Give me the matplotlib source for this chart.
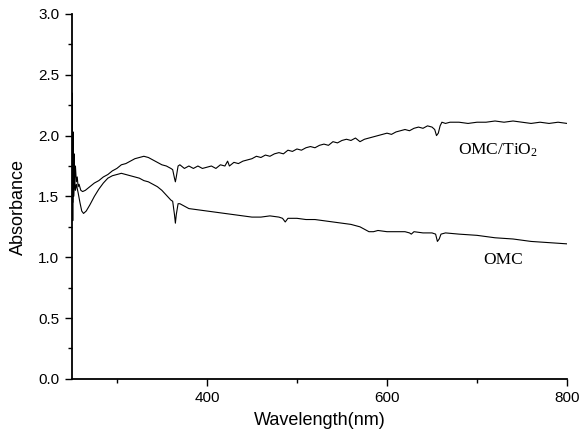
import matplotlib
matplotlib.use("Agg")
import matplotlib.pyplot as plt
from matplotlib.ticker import MultipleLocator, FixedLocator, FormatStrFormatter

plt.rcParams["mathtext.fontset"] = "custom"
plt.rcParams["mathtext.rm"] = "Liberation Serif"
plt.rcParams["mathtext.it"] = "Liberation Serif:italic"
plt.rcParams["mathtext.bf"] = "Liberation Serif:bold"

# OMC/TiO2 spectrum (wavelength nm, absorbance)
wl_tio2 = [250, 250.5, 251, 251.5, 252, 252.5, 253, 254, 255, 256, 257, 258, 260, 262, 265,
           270, 275, 280, 285, 290, 295, 300, 305, 310, 315, 320, 325, 330, 335, 340, 345,
           350, 355, 360, 362, 364, 365, 366, 368, 370, 375, 380, 385, 390, 395, 400, 405,
           410, 415, 420, 423, 425, 430, 435, 440, 445, 450, 455, 460, 465, 470, 475, 480,
           485, 490, 495, 500, 505, 510, 515, 520, 525, 530, 535, 540, 545, 550, 555, 560,
           565, 570, 575, 580, 585, 590, 595, 600, 605, 610, 615, 620, 625, 630, 635, 640,
           645, 650, 653, 655, 657, 659, 661, 665, 670, 680, 690, 700, 710, 720, 730, 740,
           750, 760, 770, 780, 790, 800]
abs_tio2 = [1.75, 2.35, 1.45, 2.03, 1.55, 1.85, 1.60, 1.75, 1.62, 1.66, 1.58, 1.60, 1.55, 1.54, 1.55,
            1.58, 1.61, 1.63, 1.66, 1.68, 1.71, 1.73, 1.76, 1.77, 1.79, 1.81, 1.82, 1.83, 1.82, 1.80, 1.78,
            1.76, 1.75, 1.73, 1.72, 1.65, 1.62, 1.66, 1.75, 1.76, 1.73, 1.75, 1.73, 1.75, 1.73, 1.74, 1.75,
            1.73, 1.76, 1.75, 1.79, 1.75, 1.78, 1.77, 1.79, 1.80, 1.81, 1.83, 1.82, 1.84, 1.83, 1.85, 1.86,
            1.85, 1.88, 1.87, 1.89, 1.88, 1.90, 1.91, 1.90, 1.92, 1.93, 1.92, 1.95, 1.94, 1.96, 1.97, 1.96,
            1.98, 1.95, 1.97, 1.98, 1.99, 2.00, 2.01, 2.02, 2.01, 2.03, 2.04, 2.05, 2.04, 2.06, 2.07, 2.06,
            2.08, 2.07, 2.05, 2.00, 2.02, 2.08, 2.11, 2.10, 2.11, 2.11, 2.10, 2.11, 2.11, 2.12, 2.11, 2.12,
            2.11, 2.10, 2.11, 2.10, 2.11, 2.10]

# OMC spectrum
wl_omc = [250, 250.5, 251, 251.5, 252, 253, 254, 255, 257, 259, 261, 263, 266, 270, 275, 280,
          285, 290, 295, 300, 305, 310, 315, 320, 325, 330, 335, 340, 345, 350, 355, 360, 362,
          364, 365, 366, 368, 370, 375, 380, 390, 400, 410, 420, 430, 440, 450, 460, 470, 480,
          484, 487, 490, 500, 510, 520, 530, 540, 550, 560, 570, 575, 580, 585, 590, 600, 610,
          620, 625, 627, 630, 640, 650, 654, 656, 658, 660, 665, 680, 700, 720, 740, 760, 780, 800]
abs_omc = [1.70, 2.00, 1.30, 1.90, 1.50, 1.65, 1.55, 1.60, 1.53, 1.45, 1.38, 1.36, 1.38, 1.43, 1.50, 1.56,
           1.61, 1.65, 1.67, 1.68, 1.69, 1.68, 1.67, 1.66, 1.65, 1.63, 1.62, 1.60, 1.58, 1.55, 1.51, 1.47, 1.46,
           1.35, 1.28, 1.35, 1.44, 1.44, 1.42, 1.40, 1.39, 1.38, 1.37, 1.36, 1.35, 1.34, 1.33, 1.33, 1.34, 1.33,
           1.32, 1.29, 1.32, 1.32, 1.31, 1.31, 1.30, 1.29, 1.28, 1.27, 1.25, 1.23, 1.21, 1.21, 1.22, 1.21, 1.21,
           1.21, 1.20, 1.19, 1.21, 1.20, 1.20, 1.19, 1.13, 1.15, 1.19, 1.20, 1.19, 1.18, 1.16, 1.15, 1.13, 1.12, 1.11]

x_major = [400, 600, 800]
x_minor = [300, 500, 700]

fig = plt.figure(figsize=(5.84, 4.36), dpi=100)
ax = fig.add_axes([0.123, 0.131, 0.848, 0.837])

ax.plot(wl_tio2, abs_tio2, color="black", lw=0.8)
ax.plot(wl_omc, abs_omc, color="black", lw=0.8)

ax.set_xlim(250, 800)
ax.set_ylim(0, 3.0)
ax.xaxis.set_major_locator(FixedLocator(x_major))
ax.xaxis.set_minor_locator(FixedLocator(x_minor))
ax.yaxis.set_major_locator(MultipleLocator(0.5))
ax.yaxis.set_minor_locator(MultipleLocator(0.25))
ax.yaxis.set_major_formatter(FormatStrFormatter("%.1f"))

for s in ["top", "right"]:
    ax.spines[s].set_visible(False)
for s in ["left", "bottom"]:
    ax.spines[s].set_linewidth(1.3)

ax.tick_params(which="major", direction="out", length=5, width=1, labelsize=11,
               labelfontfamily="Liberation Sans", pad=4)
ax.tick_params(which="minor", direction="out", length=3, width=1)

ax.set_xlabel("Wavelength(nm)", fontsize=13, family="Liberation Sans", labelpad=5)
ax.set_ylabel("Absorbance", fontsize=13, family="Liberation Sans", labelpad=5)
ax.yaxis.set_label_coords(-0.09, 0.47)

ax.text(723, 1.88, r"OMC/TiO$_\mathrm{2}$", fontsize=12.5, family="Liberation Serif",
        ha="center", va="center")
ax.text(729, 0.98, "OMC", fontsize=12.5, family="Liberation Serif",
        ha="center", va="center")

fig.savefig("out.png", dpi=100)
